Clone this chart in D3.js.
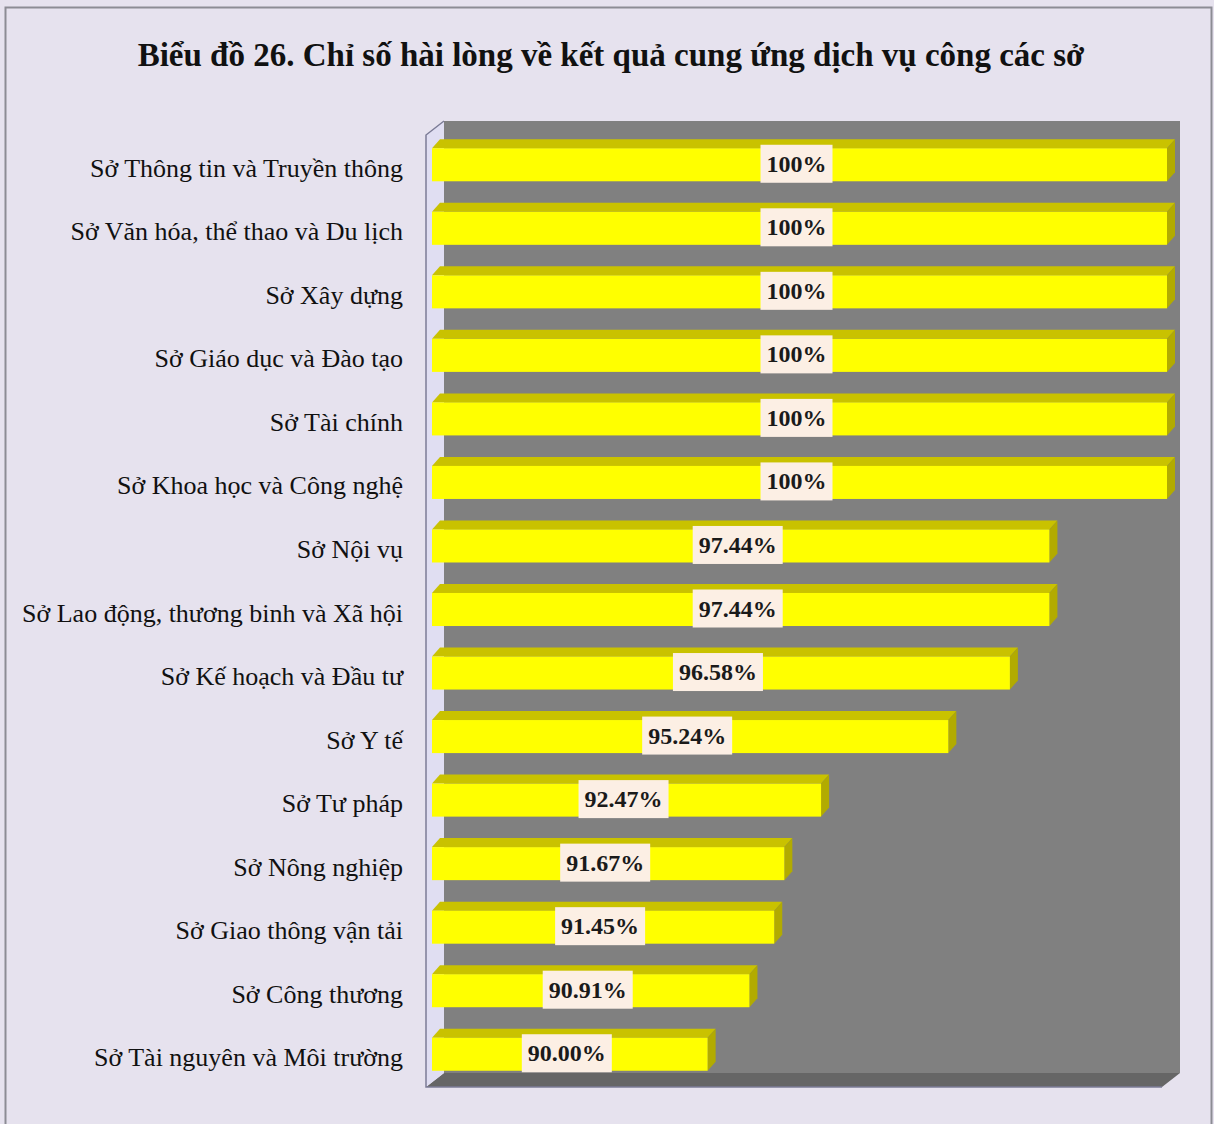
<!DOCTYPE html>
<html>
<head>
<meta charset="utf-8">
<script src="https://cdn.jsdelivr.net/npm/d3@7"></script>
<style>
  body { margin: 0; background: #e6e2ee; }
  svg { display: block; }
</style>
</head>
<body>
<div id="container"></div>
<script>
// data
const categories = [
  "Sở Thông tin và Truyền thông",
  "Sở Văn hóa, thể thao và Du lịch",
  "Sở Xây dựng",
  "Sở Giáo dục và Đào tạo",
  "Sở Tài chính",
  "Sở Khoa học và Công nghệ",
  "Sở Nội vụ",
  "Sở Lao động, thương binh và Xã hội",
  "Sở Kế hoạch và Đầu tư",
  "Sở Y tế",
  "Sở Tư pháp",
  "Sở Nông nghiệp",
  "Sở Giao thông vận tải",
  "Sở Công thương",
  "Sở Tài nguyên và Môi trường"
];
const values = [100, 100, 100, 100, 100, 100, 97.44, 97.44, 96.58, 95.24, 92.47, 91.67, 91.45, 90.91, 90.00];
const axisDomain = [84, 100];
const title = "Biểu đồ 26. Chỉ số hài lòng về kết quả cung ứng dịch vụ công các sở";

const W = 1214, H = 1124;
const svg = d3.select("#container").append("svg")
  .attr("width", W).attr("height", H);

// outer frame
svg.append("rect")
  .attr("x", 5.5).attr("y", 7.5)
  .attr("width", 1206).attr("height", 1130)
  .attr("fill", "#e6e2ee")
  .attr("stroke", "#8c8c94").attr("stroke-width", 2);

svg.append("text")
  .attr("x", 611).attr("y", 66)
  .attr("text-anchor", "middle")
  .style("font-family", "'Liberation Serif', 'Times New Roman', serif")
  .style("font-weight", "bold")
  .style("font-size", "33px")
  .attr("fill", "#111")
  .text(title);

// bar front plane scales
const x = d3.scaleLinear().domain(axisDomain).range([432, 1167]);
const y = d3.scaleBand().domain(categories).range([133, 1086])
  .paddingInner(0.48).paddingOuter(0.24);

// 3D wall depth (front plane -> back wall)
const wdx = 18, wdy = 14;
const fx0 = x(axisDomain[0]) - 6, fx1 = x(axisDomain[1]) - 5;
const fy0 = 135, fy1 = 1087;

const poly = pts => pts.map(p => p.join(",")).join(" ");

// back wall
svg.append("polygon")
  .attr("points", poly([[fx0 + wdx, fy0 - wdy], [fx1 + wdx, fy0 - wdy], [fx1 + wdx, fy1 - wdy], [fx0 + wdx, fy1 - wdy]]))
  .attr("fill", "#808080");
// floor
svg.append("polygon")
  .attr("points", poly([[fx0, fy1], [fx0 + wdx, fy1 - wdy], [fx1 + wdx, fy1 - wdy], [fx1, fy1]]))
  .attr("fill", "#666666");
// left wall
svg.append("polygon")
  .attr("points", poly([[fx0, fy0], [fx0 + wdx, fy0 - wdy], [fx0 + wdx, fy1 - wdy], [fx0, fy1]]))
  .attr("fill", "#e0def2");
svg.append("polyline")
  .attr("points", poly([[fx0 + wdx, fy0 - wdy], [fx0, fy0], [fx0, fy1], [fx1, fy1]]))
  .attr("fill", "none")
  .attr("stroke", "#7c7c96").attr("stroke-width", 1.5);

// bars
const bdx = 8, bdy = 9;
const bars = svg.append("g").selectAll("g")
  .data(categories.map((c, i) => ({cat: c, val: values[i]})))
  .join("g");

bars.append("polygon")
  .attr("points", d => {
    const x0 = x(axisDomain[0]), x1 = x(d.val), yt = y(d.cat);
    return poly([[x0, yt], [x0 + bdx, yt - bdy], [x1 + bdx, yt - bdy], [x1, yt]]);
  })
  .attr("fill", "#c9c200");

bars.append("polygon")
  .attr("points", d => {
    const x1 = x(d.val), yt = y(d.cat), h = y.bandwidth();
    return poly([[x1, yt], [x1 + bdx, yt - bdy], [x1 + bdx, yt + h - bdy], [x1, yt + h]]);
  })
  .attr("fill", "#b2ab00");

bars.append("rect")
  .attr("x", x(axisDomain[0]))
  .attr("y", d => y(d.cat))
  .attr("width", d => x(d.val) - x(axisDomain[0]))
  .attr("height", y.bandwidth())
  .attr("fill", "#ffff00");

// data labels
const fmt = v => v === 100 ? "100%" : v.toFixed(2) + "%";
bars.each(function(d) {
  const g = d3.select(this);
  const cx = (x(axisDomain[0]) + x(d.val)) / 2 - 3;
  const cy = y(d.cat) + y.bandwidth() / 2 - 1;
  const t = g.append("text")
    .attr("x", cx).attr("y", cy + 8)
    .attr("text-anchor", "middle")
    .style("font-family", "'Liberation Serif', 'Times New Roman', serif")
    .style("font-weight", "bold")
    .style("font-size", "24px")
    .attr("fill", "#1a1a1a")
    .text(fmt(d.val));
  const w = t.node().getComputedTextLength();
  g.insert("rect", "text")
    .attr("x", cx - w / 2 - 6).attr("y", cy - 19)
    .attr("width", w + 12).attr("height", 38)
    .attr("fill", "#fcefe4");
});

// category labels
svg.append("g").selectAll("text")
  .data(categories)
  .join("text")
  .attr("x", 403)
  .attr("y", d => y(d) + y.bandwidth() / 2 + 12)
  .attr("text-anchor", "end")
  .style("font-family", "'Liberation Serif', 'Times New Roman', serif")
  .style("font-size", "26px")
  .attr("fill", "#111")
  .text(d => d);
</script>
</body>
</html>
